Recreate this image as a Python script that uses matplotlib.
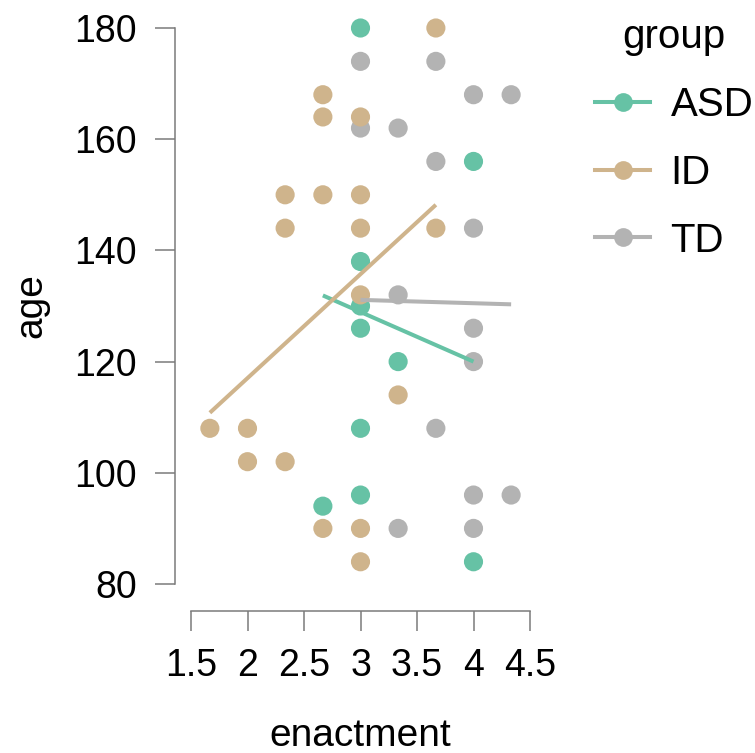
import numpy as np
import matplotlib
matplotlib.use('Agg')
import matplotlib.pyplot as plt
from matplotlib.lines import Line2D

#-------------------------------------------------#
#-- Data                      -#
#-------------------------------------------------#
groups = ['ASD', 'ID', 'TD']
colors = ['#66c2a5', '#cfb48c', '#b3b3b3']

asd_x = [3, 3, 3, 3, 3.333, 3, 3, 2.667, 4, 4]
asd_y = [180, 138, 130, 126, 120, 108, 96, 94, 84, 156]

id_x = [3.667, 2.667, 2.667, 3, 2.333, 2.667, 3, 2.333, 3, 3.667,
        3, 1.667, 2, 2, 2.333, 3.333, 2.667, 3, 3]
id_y = [180, 168, 164, 164, 150, 150, 150, 144, 144, 144,
        132, 108, 108, 102, 102, 114, 90, 90, 84]

td_x = [3, 3.667, 4, 4.333, 3, 3.333, 3.667, 4, 3.333, 4,
        4, 3.667, 4, 4.333, 3.333, 4]
td_y = [174, 174, 168, 168, 162, 162, 156, 144, 132, 126,
        120, 108, 96, 96, 90, 90]

# fitted lines (start / end) per group
asd_line_x = [2.667, 4.0]
asd_line_y = [131.9, 120.0]
id_line_x = [1.667, 3.667]
id_line_y = [110.8, 148.2]
td_line_x = [3.0, 4.333]
td_line_y = [131.1, 130.3]

xticks = [1.5, 2, 2.5, 3, 3.5, 4, 4.5]
xtick_labels = ['1.5', '2', '2.5', '3', '3.5', '4', '4.5']
yticks = [80, 100, 120, 140, 160, 180]

#-------------------------------------------------#
#-- Figure                                       -#
#-------------------------------------------------#
plt.rcParams['font.family'] = ['Liberation Sans', 'DejaVu Sans']
fs_tick = 27
fs_lab = 28
fs_leg = 29

fig = plt.figure(figsize=(7.55, 7.53), dpi=100)
ax = fig.add_axes([191/755, 1-584/753, 339/755, 556/753])

pts = [(asd_x, asd_y), (id_x, id_y), (td_x, td_y)]
lines = [(asd_line_x, asd_line_y), (id_line_x, id_line_y), (td_line_x, td_line_y)]

# points first, TD on bottom so others sit over it
for gid in [2, 0, 1]:
    px, py = pts[gid]
    ax.scatter(px, py, s=190, color=colors[gid], edgecolors='none', clip_on=False, zorder=2)
for gid in range(3):
    lx, ly = lines[gid]
    ax.plot(lx, ly, color=colors[gid], lw=2.9, solid_capstyle='butt', zorder=3)

ax.set_xlim(1.5, 4.5)
ax.set_ylim(80, 180)
ax.set_xticks(xticks)
ax.set_xticklabels(xtick_labels)
ax.set_yticks(yticks)

for side in ['top', 'right']:
    ax.spines[side].set_visible(False)
ax.spines['left'].set_position(('outward', 11.5))
ax.spines['bottom'].set_position(('outward', 19.4))
ax.spines['left'].set_bounds(80, 180)
ax.spines['bottom'].set_bounds(1.5, 4.5)
for side in ['left', 'bottom']:
    ax.spines[side].set_color('#7a7a7a')
    ax.spines[side].set_linewidth(1.1)
ax.tick_params(axis='both', length=14.4, width=1.1, color='#7a7a7a', labelsize=fs_tick)
ax.tick_params(axis='x', pad=12)
ax.tick_params(axis='y', pad=13)

ax.set_xlabel('enactment', fontsize=fs_lab, labelpad=25)
ax.set_ylabel('age', fontsize=fs_lab, labelpad=18)

#-------------------------------------------------#
#-- Legend                                       -#
#-------------------------------------------------#
handles = [Line2D([0], [0], color=colors[i], lw=2.9, marker='o', markersize=13.5,
                  markeredgewidth=0) for i in range(3)]
leg = fig.legend(handles, groups, title='group', loc='upper left',
                 bbox_to_anchor=(579/755, 1-2/753), frameon=False, fontsize=fs_leg,
                 title_fontsize=fs_leg, handlelength=1.37, handletextpad=0.5,
                 labelspacing=0.74, borderaxespad=0)

plt.savefig('out.png', dpi=100)
plt.close()
